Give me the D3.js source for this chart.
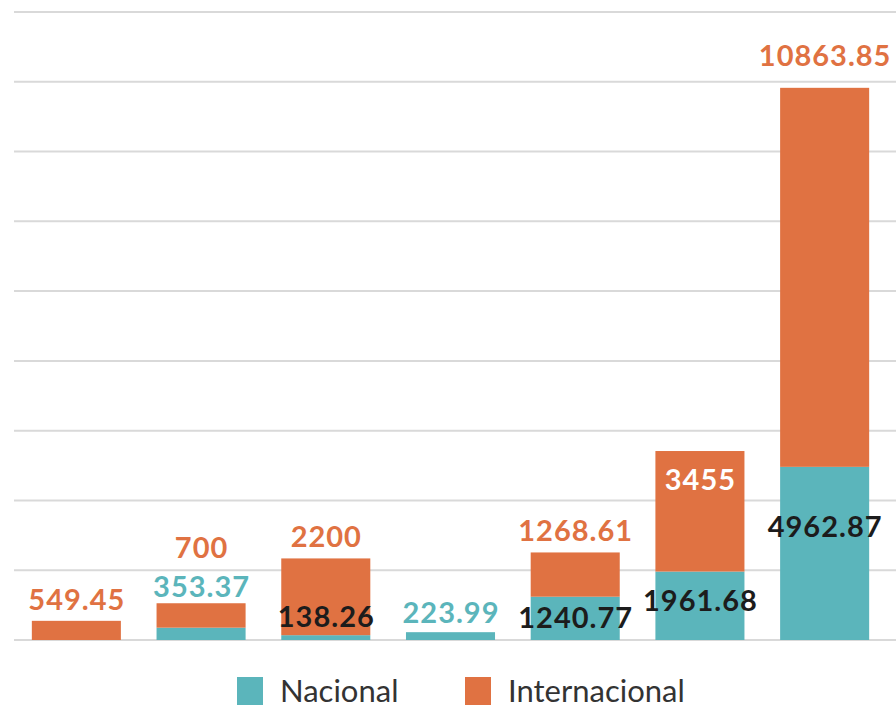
<!DOCTYPE html>
<html><head><meta charset="utf-8">
<script src="https://cdn.jsdelivr.net/npm/d3@7"></script>
<style>body{margin:0;background:#fff}svg{display:block}</style>
</head><body>
<script>
const categories = ["A","B","C","D","E","F","G"];
const nacional = [0, 353.37, 138.26, 223.99, 1240.77, 1961.68, 4962.87];
const internacional = [549.45, 700, 2200, 0, 1268.61, 3455, 10863.85];
const nacionalLabels = ["", "353.37", "138.26", "223.99", "1240.77", "1961.68", "4962.87"];
const internacionalLabels = ["549.45", "700", "2200", "", "1268.61", "3455", "10863.85"];
const gridTicks = [0,2000,4000,6000,8000,10000,12000,14000,16000,18000];
const seriesNames = ["Nacional","Internacional"];

const W=896,H=705;
const TEAL="#5bb5bb", ORANGE="#e07242", DARK="#1c1c1c";
const FONT="Lato, 'Open Sans', sans-serif";
const svg=d3.select("body").append("svg").attr("width",W).attr("height",H);
const x=d3.scaleBand().domain(categories).range([14,887]).paddingInner(0.286).paddingOuter(0.143);
const y=d3.scaleLinear().domain([0,18000]).range([640,12]);

svg.append("g").selectAll("line").data(gridTicks).join("line")
  .attr("x1",14).attr("x2",W).attr("y1",d=>y(d)).attr("y2",d=>y(d))
  .attr("stroke","#d9d9d9").attr("stroke-width",2);

const rows=categories.map((c,i)=>({c,i,nac:nacional[i],int:internacional[i]}));
const stack=d3.stack().keys(["nac","int"])(rows);
const colors={nac:TEAL,int:ORANGE};
stack.forEach(layer=>{
  svg.append("g").selectAll("rect").data(layer).join("rect")
    .attr("x",d=>x(d.data.c)).attr("width",x.bandwidth())
    .attr("y",d=>y(d[1])).attr("height",d=>y(d[0])-y(d[1]))
    .attr("fill",colors[layer.key]);
});

const lbl=svg.append("g").attr("font-family",FONT).attr("font-weight",700).attr("font-size",29)
  .attr("letter-spacing","1px").attr("text-anchor","middle");
rows.forEach((r,i)=>{
  const cx=x(r.c)+x.bandwidth()/2+0.5;
  const top=y(r.nac+r.int), nTop=y(r.nac);
  if(internacionalLabels[i]){
    let yy, fill=ORANGE;
    if(i===5){ yy=top+39; fill="#fff"; }
    else if(i===1){ yy=top-45; }
    else if(i===6){ yy=top-22; }
    else yy=top-11;
    lbl.append("text").attr("x",cx).attr("y",yy).attr("fill",fill).text(internacionalLabels[i]);
  }
  if(nacionalLabels[i]){
    let yy, fill=DARK;
    if(i===1){ yy=top-6; fill=TEAL; }
    else if(i===3){ yy=nTop-9; fill=TEAL; }
    else if(i===2){ yy=y(0)-13; }
    else if(i===4){ yy=nTop+31; }
    else if(i===5){ yy=nTop+39; }
    else { yy=nTop+70; }
    lbl.append("text").attr("x",cx).attr("y",yy).attr("fill",fill).text(nacionalLabels[i]);
  }
});

const leg=svg.append("g").attr("font-family",FONT).attr("font-size",31).attr("fill","#333");
const legX=[237,465];
seriesNames.forEach((s,i)=>{
  leg.append("rect").attr("x",legX[i]).attr("y",677).attr("width",26).attr("height",28).attr("fill",i?ORANGE:TEAL);
  leg.append("text").attr("x",legX[i]+43).attr("y",702).attr("fill","#333").text(s);
});
</script>
</body></html>
